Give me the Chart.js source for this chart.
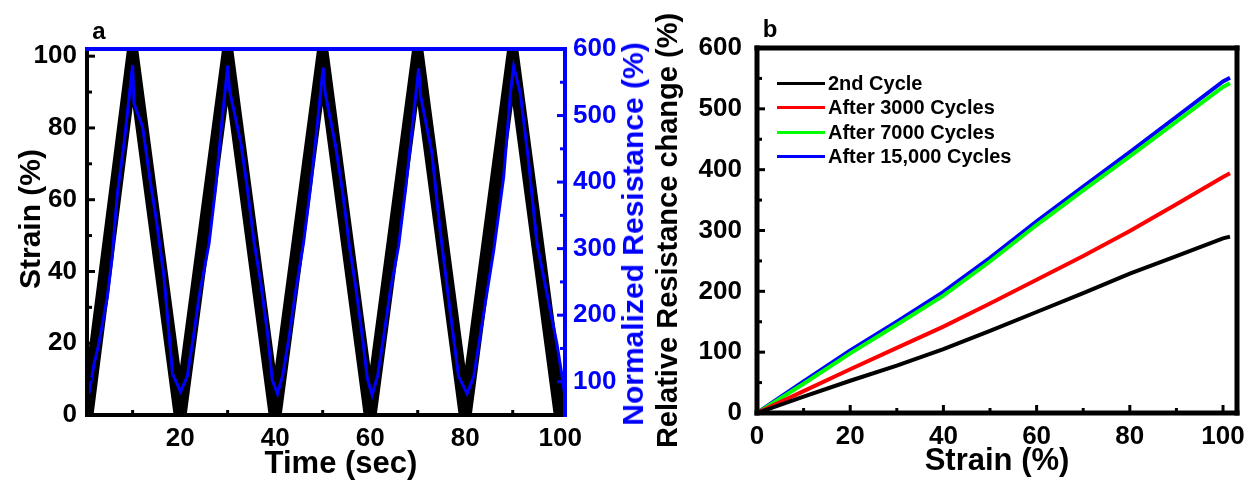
<!DOCTYPE html>
<html>
<head>
<meta charset="utf-8">
<script src="https://cdn.jsdelivr.net/npm/chart.js@4"></script>
<style>
  body { margin: 0; background: #fff; }
  #wrap { position: relative; width: 1257px; height: 488px; overflow: hidden; font-family: "Liberation Sans", Arial, sans-serif; font-weight: bold; }
  canvas { position: absolute; top: 0; }
  #chartA { left: 0; }
  #chartB { left: 650px; }
  .lbl { position: absolute; white-space: nowrap; line-height: 1; }
  .rot { transform: translate(-50%, -50%) rotate(-90deg); }
  .ctr { transform: translate(-50%, -50%); }
  #legendB { position: absolute; left: 777px; top: 71px; font-size: 20px; }
  #legendB .row { height: 24.5px; display: flex; align-items: center; }
  #legendB .swatch { width: 48px; height: 3px; margin-right: 3px; }
</style>
</head>
<body>
<div id="wrap">
  <canvas id="chartA" width="650" height="488"></canvas>
  <canvas id="chartB" width="607" height="488"></canvas>
  <div class="lbl ctr" style="left:99px; top:31px; font-size:24px;">a</div>
  <div class="lbl ctr" style="left:770px; top:29px; font-size:24px;">b</div>
  <div class="lbl rot" style="left:30px; top:219px; font-size:30px;">Strain (%)</div>
  <div class="lbl ctr" style="left:341px; top:462px; font-size:31px;">Time (sec)</div>
  <div class="lbl rot" style="left:633px; top:234px; font-size:30px; color:#0000ff;">Normalized Resistance (%)</div>
  <div id="legendB"></div>
</div>
<script>
// panel a: cyclic strain (triangle) and normalized resistance
var strainTime = [0.4, 10, 20, 30, 40, 50, 60, 70, 80, 90, 100]
var strainValue = [0, 100, 0, 100, 0, 100, 0, 100, 0, 100, 0]

var resTime = [0.8, 1.9, 2.9, 4.7, 5.7, 6.8, 8.2, 10.0,
    10.3, 12.1, 13.8, 14.9, 16.6, 17.7, 18.4, 20.1,
    21.5, 22.9, 24.0, 26.1, 27.5, 28.6, 30.0,
    30.4, 32.8, 34.1, 35.6, 37.0, 38.4, 39.4, 40.5,
    41.6, 43.0, 44.3, 46.0, 47.5, 48.7, 50.1,
    50.5, 52.7, 54.2, 55.6, 57.0, 58.4, 59.4, 60.4,
    61.6, 63.0, 64.2, 66.0, 67.5, 68.8, 70.2,
    70.6, 73.0, 74.7, 76.8, 78.6, 80.4,
    81.8, 84.2, 86.0, 88.1, 89.5, 90.2,
    91.6, 93.3, 95.1, 97.9, 99.3, 100.4, 101]
var resValue = [82, 127, 157, 228, 288, 383, 458, 576,
    518, 483, 397, 348, 258, 168, 112, 85,
    108, 172, 228, 308, 393, 477, 575,
    538, 458, 393, 308, 247, 172, 102, 82,
    110, 170, 235, 310, 395, 475, 572,
    535, 455, 385, 305, 240, 165, 105, 80,
    110, 175, 235, 305, 392, 478, 571,
    530, 443, 328, 207, 108, 82,
    108, 217, 297, 408, 533, 574,
    533, 433, 308, 207, 157, 108, 77]

var timeTicks = [20, 40, 60, 80, 100]
var strainTicks = [0, 20, 40, 60, 80, 100]
var resTicks = [100, 200, 300, 400, 500, 600]

// panel b: relative resistance change vs strain
var strainB = [0, 10, 20, 30, 40, 50, 60, 70, 80, 90, 100, 101.5]
var cycle2 = [0, 27, 53, 78, 105, 135, 166, 197, 229, 258, 287, 290]
var after3000 = [0, 36, 72, 107, 142, 180, 219, 258, 299, 343, 388, 394]
var after7000 = [0, 48, 98, 145, 193, 249, 309, 366, 422, 479, 536, 542]
var after15000 = [0, 52, 103, 150, 199, 255, 315, 372, 429, 487, 545, 551]
var seriesNames = ['2nd Cycle', 'After 3000 Cycles', 'After 7000 Cycles', 'After 15,000 Cycles']
var seriesColors = ['#000000', '#ff0000', '#00ff00', '#0000ff']
var strainTicksB = [0, 20, 40, 60, 80, 100]
var changeTicks = [0, 100, 200, 300, 400, 500, 600]

Chart.defaults.font.family = '"Liberation Sans", Arial, sans-serif'
Chart.defaults.font.weight = 'bold'
Chart.defaults.color = '#000'

function pts(xs, ys) {
    return xs.map(function (x, i) { return { x: x, y: ys[i] } })
}
function fixTicks(list) {
    return function (axis) { axis.ticks = list.map(function (v) { return { value: v } }) }
}

// frame lines and inward tick marks
const frameTicks = {
    id: 'frame',
    afterDatasetsDraw(chart, args, opts) {
        const ctx = chart.ctx
        const a = chart.chartArea
        ctx.save()
        ctx.lineWidth = 3
        ctx.lineCap = 'butt'
        opts.ticks.forEach(function (t) {
            const s = chart.scales[t.scale]
            ctx.strokeStyle = t.color
            for (var v = t.from; v <= t.to + 1e-9; v += t.step) {
                const len = (Math.abs(v % t.major) < 1e-9) ? 8 : 5
                const p = s.getPixelForValue(v)
                ctx.beginPath()
                if (t.side == 'left') { ctx.moveTo(a.left, p); ctx.lineTo(a.left + len, p) }
                if (t.side == 'right') { ctx.moveTo(a.right, p); ctx.lineTo(a.right - len, p) }
                if (t.side == 'bottom') { ctx.moveTo(p, a.bottom); ctx.lineTo(p, a.bottom - len) }
                ctx.stroke()
            }
        })
        ctx.lineWidth = opts.width
        ctx.lineCap = 'square'
        const sides = opts.sides
        const seg = {
            top: [a.left, a.top, a.right, a.top],
            bottom: [a.left, a.bottom, a.right, a.bottom],
            left: [a.left, a.top, a.left, a.bottom],
            right: [a.right, a.top, a.right, a.bottom]
        }
        ;['left', 'bottom', 'right', 'top'].forEach(function (k) {
            if (!sides[k]) return
            const c = seg[k]
            ctx.strokeStyle = sides[k]
            ctx.beginPath()
            ctx.moveTo(c[0], c[1])
            ctx.lineTo(c[2], c[3])
            ctx.stroke()
        })
        ctx.restore()
    }
}

const tickFont = { size: 26, weight: 'bold' }
const noGrid = { display: false }
const noBorder = { display: false }

const ctxA = document.getElementById('chartA')
new Chart(ctxA, {
    type: 'line',
    data: {
        datasets: [{
            label: 'Normalized Resistance (%)',
            data: pts(resTime, resValue),
            yAxisID: 'y1',
            borderColor: '#0000ff',
            borderWidth: 3,
            pointRadius: 0,
            clip: 0
        }, {
            label: 'Strain (%)',
            data: pts(strainTime, strainValue),
            yAxisID: 'y',
            borderColor: '#000000',
            borderWidth: 13,
            borderJoinStyle: 'miter',
            pointRadius: 0,
            clip: 0
        }]
    },
    options: {
        responsive: false,
        animation: false,
        layout: { padding: { top: 49, left: 0, right: 0, bottom: 0 } },
        plugins: {
            legend: { display: false },
            tooltip: { enabled: false },
            frame: {
                width: 4,
                sides: { left: '#000', bottom: '#000', right: '#0000ff', top: '#0000ff' },
                ticks: [
                    { scale: 'y', side: 'left', from: 0, to: 100, step: 10, major: 20, color: '#000' },
                    { scale: 'x', side: 'bottom', from: 10, to: 100, step: 10, major: 20, color: '#000' },
                    { scale: 'y1', side: 'right', from: 50, to: 600, step: 50, major: 100, color: '#0000ff' }
                ]
            }
        },
        scales: {
            x: {
                type: 'linear', min: 0.4, max: 101,
                afterBuildTicks: fixTicks(timeTicks),
                afterFit: function (s) { s.height = 73 },
                grid: noGrid, border: noBorder,
                ticks: { font: tickFont, color: '#000', padding: 0, maxRotation: 0 }
            },
            y: {
                position: 'left', min: 0, max: 102,
                afterBuildTicks: fixTicks(strainTicks),
                afterFit: function (s) { s.width = 87 },
                grid: noGrid, border: noBorder,
                ticks: { font: tickFont, color: '#000', padding: 2 }
            },
            y1: {
                position: 'right', min: 50, max: 600,
                afterBuildTicks: fixTicks(resTicks),
                afterFit: function (s) { s.width = 85 },
                grid: noGrid, border: noBorder,
                ticks: { font: tickFont, color: '#0000ff', padding: 0 }
            }
        }
    },
    plugins: [frameTicks]
})

const ctxB = document.getElementById('chartB')
const seriesB = [cycle2, after3000, after7000, after15000]
const chartB = new Chart(ctxB, {
    type: 'line',
    data: {
        datasets: seriesB.map(function (vals, i) {
            return {
                label: seriesNames[i],
                data: pts(strainB, vals),
                borderColor: seriesColors[i],
                backgroundColor: seriesColors[i],
                borderWidth: 4,
                pointRadius: 0,
                clip: 0
            }
        })
    },
    options: {
        responsive: false,
        animation: false,
        layout: { padding: { top: 48, left: 0, right: 20, bottom: 0 } },
        plugins: {
            legend: { display: false },
            tooltip: { enabled: false },
            frame: {
                width: 5,
                sides: { left: '#000', bottom: '#000', right: '#000', top: '#000' },
                ticks: [
                    { scale: 'y', side: 'left', from: 50, to: 550, step: 50, major: 100, color: '#000' },
                    { scale: 'x', side: 'bottom', from: 10, to: 100, step: 10, major: 20, color: '#000' }
                ]
            }
        },
        scales: {
            x: {
                type: 'linear', min: 0, max: 103,
                afterBuildTicks: fixTicks(strainTicksB),
                afterFit: function (s) { s.height = 75 },
                grid: noGrid, border: noBorder,
                ticks: { font: tickFont, color: '#000', padding: 0, maxRotation: 0 },
                title: { display: true, text: 'Strain (%)', font: { size: 31, weight: 'bold' }, color: '#000', padding: { top: 0, bottom: 8 } }
            },
            y: {
                min: 0, max: 600,
                afterBuildTicks: fixTicks(changeTicks),
                afterFit: function (s) { s.width = 107 },
                grid: noGrid, border: noBorder,
                ticks: { font: tickFont, color: '#000', padding: 7 },
                title: { display: true, text: 'Relative Resistance change (%)', font: { size: 29, weight: 'bold' }, color: '#000', padding: { top: 2, bottom: 0 } }
            }
        }
    },
    plugins: [frameTicks]
})

// legend for panel b, built from the datasets
var legendBox = document.getElementById('legendB')
chartB.data.datasets.forEach(function (ds) {
    var row = document.createElement('div')
    row.className = 'row'
    var sw = document.createElement('span')
    sw.className = 'swatch'
    sw.style.background = ds.borderColor
    var tx = document.createElement('span')
    tx.textContent = ds.label
    row.append(sw, tx)
    legendBox.append(row)
})
</script>
</body>
</html>
